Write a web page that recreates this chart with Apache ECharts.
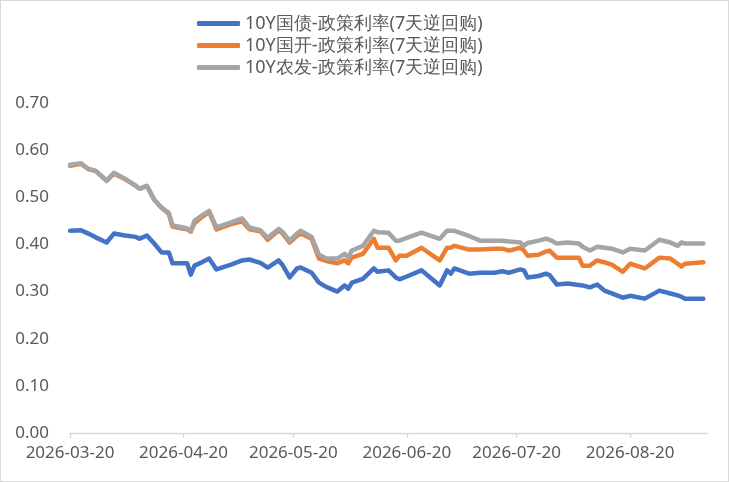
<!DOCTYPE html>
<html><head><meta charset="utf-8">
<script src="https://cdn.jsdelivr.net/npm/echarts@6/dist/echarts.min.js"></script>
<style>html,body{margin:0;padding:0;background:#fff}#c{width:729px;height:482px;box-sizing:border-box;border:1px solid #d9d9d9}</style>
</head><body><div id="c"></div>
<script>
const seriesNames = ['10Y国债-政策利率(7天逆回购)', '10Y国开-政策利率(7天逆回购)', '10Y农发-政策利率(7天逆回购)'];
const dates = ['2026-03-20','2026-03-23','2026-03-25','2026-03-27','2026-03-30','2026-04-01','2026-04-04','2026-04-07','2026-04-08','2026-04-10',
'2026-04-12','2026-04-14','2026-04-16','2026-04-17','2026-04-20','2026-04-21','2026-04-22','2026-04-23','2026-04-25','2026-04-27',
'2026-04-29','2026-05-03','2026-05-06','2026-05-08','2026-05-11','2026-05-13','2026-05-16','2026-05-17','2026-05-19','2026-05-21',
'2026-05-22','2026-05-25','2026-05-27','2026-05-29','2026-06-01','2026-06-03','2026-06-04','2026-06-05','2026-06-08','2026-06-11',
'2026-06-12','2026-06-15','2026-06-17','2026-06-18','2026-06-20','2026-06-24','2026-06-29','2026-07-01','2026-07-02','2026-07-03',
'2026-07-07','2026-07-10','2026-07-14','2026-07-16','2026-07-18','2026-07-21','2026-07-22','2026-07-23','2026-07-26','2026-07-28',
'2026-07-29','2026-07-31','2026-08-03','2026-08-06','2026-08-07','2026-08-09','2026-08-11','2026-08-13','2026-08-15','2026-08-18',
'2026-08-20','2026-08-24','2026-08-28','2026-08-31','2026-09-02','2026-09-03','2026-09-04','2026-09-09'];
const govt = [0.429,0.430,0.423,0.415,0.404,0.423,0.419,0.416,0.412,0.419,
0.402,0.383,0.383,0.360,0.360,0.360,0.336,0.355,0.362,0.370,
0.347,0.357,0.366,0.368,0.361,0.351,0.366,0.357,0.330,0.349,
0.351,0.340,0.319,0.310,0.300,0.313,0.306,0.319,0.327,0.349,
0.342,0.345,0.330,0.326,0.332,0.345,0.313,0.345,0.338,0.349,
0.338,0.340,0.340,0.343,0.340,0.347,0.345,0.330,0.333,0.338,
0.335,0.315,0.317,0.314,0.313,0.309,0.315,0.302,0.296,0.287,
0.291,0.285,0.302,0.296,0.292,0.289,0.285,0.285];
const cdb = [0.567,0.571,0.560,0.556,0.535,0.550,0.539,0.524,0.518,0.524,
0.495,0.478,0.465,0.438,0.433,0.432,0.427,0.445,0.458,0.469,
0.432,0.443,0.449,0.432,0.428,0.410,0.430,0.424,0.404,0.418,
0.423,0.412,0.370,0.365,0.360,0.366,0.360,0.372,0.380,0.412,
0.393,0.393,0.366,0.376,0.376,0.393,0.366,0.393,0.393,0.397,
0.389,0.389,0.391,0.391,0.387,0.393,0.387,0.376,0.378,0.385,
0.387,0.372,0.372,0.372,0.355,0.355,0.366,0.362,0.357,0.342,
0.359,0.349,0.372,0.370,0.359,0.353,0.359,0.362];
const adbc = [0.569,0.572,0.560,0.556,0.535,0.552,0.539,0.524,0.518,0.524,
0.495,0.478,0.467,0.440,0.436,0.434,0.429,0.450,0.461,0.471,
0.436,0.447,0.455,0.436,0.430,0.414,0.433,0.427,0.408,0.423,
0.429,0.416,0.378,0.370,0.370,0.380,0.372,0.387,0.397,0.429,
0.426,0.425,0.408,0.408,0.414,0.425,0.412,0.429,0.429,0.429,
0.418,0.408,0.408,0.408,0.406,0.404,0.397,0.403,0.408,0.412,
0.410,0.402,0.404,0.402,0.395,0.387,0.395,0.393,0.391,0.383,
0.391,0.387,0.410,0.404,0.397,0.404,0.402,0.402];
const tickDates = ['2026-03-20','2026-04-20','2026-05-20','2026-06-20','2026-07-20','2026-08-20'];
const axisMin = '2026-03-20', axisMax = '2026-09-10';

const DAY = 86400000;
function utc(s){const p=s.split('-').map(Number);return Date.UTC(p[0],p[1]-1,p[2]);}
function dayIdx(s){return Math.round((utc(s)-utc(axisMin))/DAY);}
function pad(n){return (n<10?'0':'')+n;}
function fmt(v){const d=new Date(utc(axisMin)+Math.round(v)*DAY);return d.getUTCFullYear()+'-'+pad(d.getUTCMonth()+1)+'-'+pad(d.getUTCDate());}
const colors = ['#4472C4','#ED7D31','#A5A5A5'];
const vals = [govt, cdb, adbc];
const tickIdx = tickDates.map(dayIdx);
const font = '"Noto Sans", "Liberation Sans", sans-serif';
const chart = echarts.init(document.getElementById('c'), null, {renderer:'canvas'});
chart.setOption({
  animation:false,
  color: colors,
  grid:{left:69, right:21, top:102, bottom:48, containLabel:false},
  legend:{
    orient:'vertical', left:191, top:7, itemWidth:43, itemHeight:5, itemGap:1,
    icon:'roundRect',
    textStyle:{color:'#595959', fontSize:18, fontFamily:font, lineHeight:21},
    data: seriesNames
  },
  xAxis:{
    type:'value', min: 0, max: dayIdx(axisMax),
    axisLine:{show:true, lineStyle:{color:'#D9D9D9', width:1.3}},
    axisTick:{show:true, length:5, customValues: tickIdx, lineStyle:{color:'#D9D9D9', width:1.3}},
    axisLabel:{customValues: tickIdx, formatter: v=>fmt(v), color:'#595959', fontSize:17, fontFamily:font, margin:12},
    splitLine:{show:false}
  },
  yAxis:{
    type:'value', min:0, max:0.7, interval:0.1,
    axisLine:{show:false}, axisTick:{show:false}, splitLine:{show:false},
    axisLabel:{formatter: v=>v.toFixed(2), color:'#595959', fontSize:17, fontFamily:font, margin:21}
  },
  series: seriesNames.map((n,i)=>({
    name:n, type:'line', showSymbol:false, symbol:'none',
    lineStyle:{width:4.5, color:colors[i], cap:'round', join:'round'},
    itemStyle:{color:colors[i]},
    data: dates.map((d,j)=>[dayIdx(d), vals[i][j]])
  }))
});
</script></body></html>
